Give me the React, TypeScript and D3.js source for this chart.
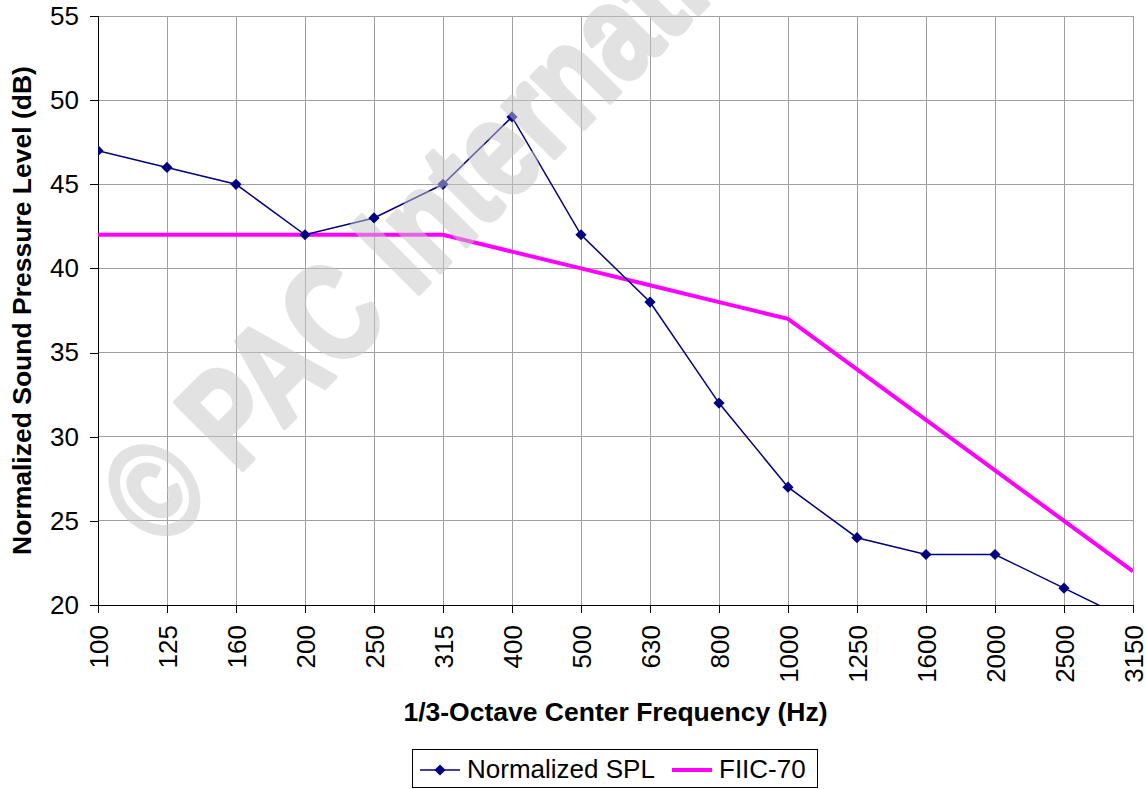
import React, { useRef, useEffect } from "react";
import * as d3 from "d3";

const frequencies = ["100", "125", "160", "200", "250", "315", "400", "500", "630", "800", "1000", "1250", "1600", "2000", "2500", "3150"];
const normalizedSpl = [47, 46, 45, 42, 43, 45, 49, 42, 38, 32, 27, 24, 23, 23, 21, 19];
const fiic70 = [42, 42, 42, 42, 42, 42, 41, 40, 39, 38, 37, 34, 31, 28, 25, 22];
const yTicks = [20, 25, 30, 35, 40, 45, 50, 55];

const FONT = "'Liberation Sans', Arial, sans-serif";

const App = () => {
  const ref = useRef<SVGSVGElement | null>(null);

  useEffect(() => {
    if (!ref.current) return;
    const svg = d3.select(ref.current);
    svg.selectAll("*").remove();

    const left = 98, right = 1133, top = 16, bottom = 605;

    const x = d3.scalePoint<string>().domain(frequencies).range([left, right]);
    const y = d3.scaleLinear().domain([20, 55]).range([bottom, top]);

    svg.append("defs").append("clipPath").attr("id", "plot")
      .append("rect").attr("x", left).attr("y", top).attr("width", right - left).attr("height", bottom - top);

    // grid
    const grid = svg.append("g").attr("stroke", "#a0a0a0").attr("stroke-width", 1).attr("shape-rendering", "crispEdges");
    yTicks.forEach(t => {
      grid.append("line").attr("x1", left).attr("x2", right).attr("y1", y(t)).attr("y2", y(t));
    });
    frequencies.forEach(f => {
      grid.append("line").attr("x1", x(f)!).attr("x2", x(f)!).attr("y1", top).attr("y2", bottom);
    });

    // axes
    const yAxis = svg.append("g").attr("transform", `translate(${left},0)`)
      .call(d3.axisLeft(y).tickValues(yTicks).tickSize(8).tickPadding(11));
    const xAxis = svg.append("g").attr("transform", `translate(0,${bottom})`)
      .call(d3.axisBottom(x).tickSize(8).tickPadding(0));
    [yAxis, xAxis].forEach(a => {
      a.select(".domain").attr("stroke", "#000").attr("shape-rendering", "crispEdges");
      a.selectAll(".tick line").attr("stroke", "#000").attr("shape-rendering", "crispEdges");
      a.selectAll("text").attr("font-family", FONT).attr("font-size", 26).attr("fill", "#000");
    });
    xAxis.selectAll(".tick text")
      .attr("transform", "rotate(-90)")
      .attr("text-anchor", "end")
      .attr("x", -20)
      .attr("y", 0)
      .attr("dy", "0.36em");

    const plot = svg.append("g").attr("clip-path", "url(#plot)");

    const line = d3.line<number>().x((_, i) => x(frequencies[i])!).y(d => y(d));

    plot.append("path").datum(fiic70).attr("d", line)
      .attr("fill", "none").attr("stroke", "#ff00ff").attr("stroke-width", 4);

    plot.append("path").datum(normalizedSpl).attr("d", line)
      .attr("fill", "none").attr("stroke", "#000080").attr("stroke-width", 1.5);

    const diamond = d3.symbol().type(d3.symbolDiamond2).size(80);
    plot.selectAll("path.pt").data(normalizedSpl).enter().append("path")
      .attr("class", "pt")
      .attr("d", diamond)
      .attr("transform", (d, i) => `translate(${x(frequencies[i])},${y(d)})`)
      .attr("fill", "#000080");

    // watermark
    svg.append("text")
      .attr("transform", "translate(160,552) rotate(-45) scale(0.78,1)")
      .attr("font-family", FONT).attr("font-weight", "bold").attr("font-size", 138)
      .attr("fill", "#c8c8c8").attr("stroke", "#c8c8c8").attr("stroke-width", 5)
      .attr("stroke-linejoin", "round").attr("opacity", 0.51)
      .text("© PAC International");

    // axis titles
    svg.append("text")
      .attr("x", 615.5).attr("y", 721)
      .attr("text-anchor", "middle")
      .attr("font-family", FONT).attr("font-weight", "bold").attr("font-size", 26.5)
      .text("1/3-Octave Center Frequency (Hz)");

    svg.append("text")
      .attr("transform", `translate(31,${(top + bottom) / 2}) rotate(-90)`)
      .attr("text-anchor", "middle")
      .attr("font-family", FONT).attr("font-weight", "bold").attr("font-size", 26.5)
      .text("Normalized Sound Pressure Level (dB)");

    // legend
    const lg = svg.append("g").attr("transform", "translate(412,749)");
    lg.append("rect").attr("x", 0.5).attr("y", 0.5).attr("width", 405).attr("height", 38)
      .attr("fill", "#fff").attr("stroke", "#000");
    lg.append("line").attr("x1", 8).attr("x2", 48).attr("y1", 21).attr("y2", 21)
      .attr("stroke", "#000080").attr("stroke-width", 1.5);
    lg.append("path").attr("d", diamond).attr("transform", "translate(28,21)").attr("fill", "#000080");
    lg.append("text").attr("x", 55).attr("y", 29)
      .attr("font-family", FONT).attr("font-size", 26).text("Normalized SPL");
    lg.append("line").attr("x1", 260).attr("x2", 300).attr("y1", 21).attr("y2", 21)
      .attr("stroke", "#ff00ff").attr("stroke-width", 4);
    lg.append("text").attr("x", 307).attr("y", 29)
      .attr("font-family", FONT).attr("font-size", 26).text("FIIC-70");
  }, []);

  return <svg ref={ref} width={1146} height={789} style={{ position: "absolute", left: 0, top: 0 }}></svg>;
};

export default App;
